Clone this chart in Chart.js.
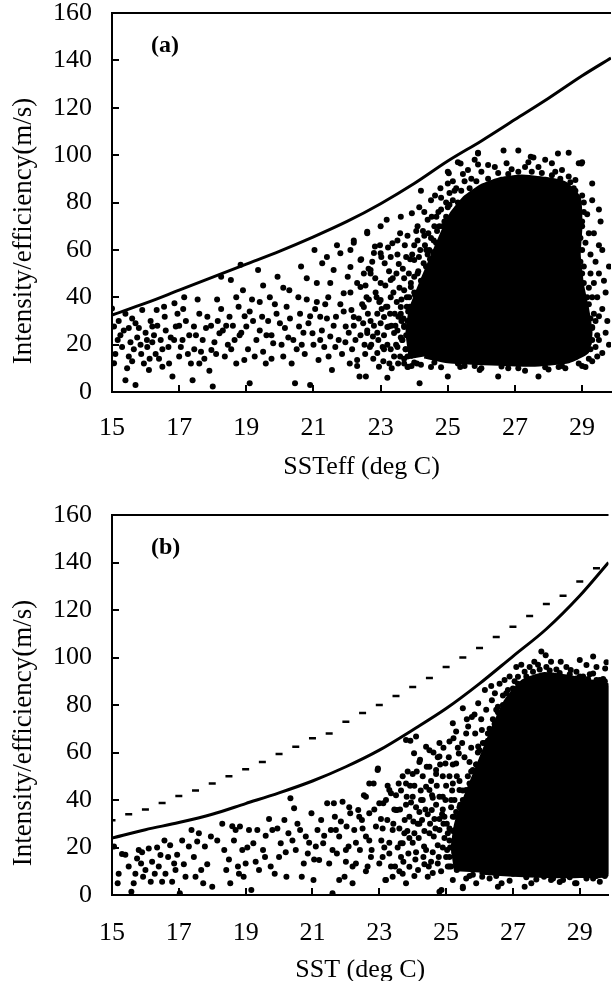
<!DOCTYPE html>
<html>
<head>
<meta charset="utf-8">
<script src="https://cdn.jsdelivr.net/npm/chart.js@4.4.0/dist/chart.umd.min.js"></script>
<style>
  html, body { margin: 0; padding: 0; background: #fff; overflow: hidden; }
  .panel { position: relative; width: 615px; height: 490px; }
  #wrapB { height: 510px; }
</style>
</head>
<body>
<div class="panel" id="wrapA"><canvas id="chartA"></canvas></div>
<div class="panel" id="wrapB"><canvas id="chartB"></canvas></div>
<script>
// axis ticks
const xTicks = [15, 17, 19, 21, 23, 25, 27, 29];
const yTicks = [0, 20, 40, 60, 80, 100, 120, 140, 160];
const xMax = 29.86; // picture is cut off here
const yTitle = "Intensity/efficiency(m/s)";

// (a) limit curve vs SSTeff
const sstA = [15, 16, 17, 18, 19, 20, 21, 22, 23, 24, 25, 26, 27, 28, 29, 29.86];
const limitA = [32.5, 37.5, 43, 48.5, 54, 59.5, 65.5, 72, 79.5, 88, 97.5, 106, 115, 124, 133.5, 141];

// (b) solid curve vs SST
const sstB = [15, 16, 17, 18, 19, 20, 21, 22, 23, 24, 25, 26, 27, 28, 29, 29.86];
const limitB = [24, 27.5, 30.5, 34, 38.5, 43, 48, 54, 61, 69.5, 78.5, 89, 100.5, 112, 126, 140];

// (b) dash markers
const sstDash = [15, 15.5, 16, 16.5, 17, 17.5, 18, 18.5, 19, 19.5, 20, 20.5, 21, 21.5, 22, 22.5,
  23, 23.5, 24, 24.5, 25, 25.5, 26, 26.5, 27, 27.5, 28, 28.5, 29, 29.5];
const limitDash = [31.5, 34, 36, 38.7, 41.7, 44, 47, 50, 53, 56, 59.4, 62.4, 66, 68, 73, 76.6,
  80, 83.8, 87.6, 91.4, 96, 100, 104, 108.6, 113, 117.5, 122.5, 126, 132, 137.6];

// dense cores (solid black outline)
const coreA = [[23.9,14],[23.8,25],[23.9,35],[24.2,46],[24.5,56],[24.8,66],[25.1,75],[25.5,82],[26,87],[26.6,90],[27.2,91],[27.9,90],[28.5,88],[28.9,82],[28.95,70],[28.9,58],[29,45],[29.15,35],[29.25,25],[29.15,17],[28.6,13],[27.5,11.5],[26.3,12],[25,13],[24.3,15]];
const coreB = [[25.3,10],[25.2,20],[25.3,30],[25.6,42],[26,56],[26.4,70],[26.8,82],[27.3,90],[27.9,93],[28.6,92],[29.3,90],[29.86,88],[29.86,9],[29,8],[28,8],[27,8.5],[26,9.5]];

// scattered storms (a)
const scatterA = [
  [15,35.3],[15.06,27.6],[15.06,12.1],[15.17,22],[15.3,19],[15.4,5],[15.5,15],[15.6,31],[15.7,3],[15.75,23],[15.87,16],[15.9,34.6],[16.04,22],[16.1,9.3],[16.2,27.6],[16.3,16],[16.33,34.6],[16.45,22],[16.5,10.7],[16.57,31.8],[16.68,19],[16.8,6.5],[16.86,37.5],[16.9,27.6],[17,15],[17.1,22],[17.15,40],[17.26,16],[17.4,5],[17.44,27.6],[17.55,39],[17.6,12],[17.7,22],[17.84,31.8],[17.96,17.7],[18,2.3],[18.13,39],[18.2,24.8],[18.25,48.7],[18.36,15],[18.5,31.8],[18.54,47.3],[18.65,22],[18.77,36],[18.83,53.7],[18.94,13.5],[19,27.6],[19.1,3.7],[19.17,39],[19.3,22],[19.35,51.5],[19.47,31.8],[19.58,12],[19.7,40],[19.8,20.6],[19.93,48.7],[20,29],[20.1,15],[20.2,36],[20.28,43],[20.4,22],[20.45,3.7],[20.57,27.6],[20.63,53],[20.74,16],[20.8,39],[20.9,3],[20.97,24.8],[21.03,60],[21.1,46],[21.15,13.5],[21.2,31.8],[21.26,54.4],[21.32,19],[21.44,40],[21.5,23.4],[21.55,9.3],[21.6,51.5],[21.67,31.8],[21.8,58.6],[21.85,16],[21.9,41.7],[21.96,27.6],[22.02,48.7],[22.08,12],[22.13,34.6],[22.2,64],[22.25,22],[22.3,46],[22.37,6.5],[22.42,56],[22.48,29],[22.54,16],[22.6,67.7],[22.65,39],[22.7,51.5],[22.77,23.4],[22.83,61.4],[22.9,33],[22.95,10.7],[23,46],[23.06,19],[23.12,54.4],[23.18,72.7],[23.24,27.6],[23.3,40],[23.35,62.8],[23.4,15],[23.47,50],[23.53,31.8],[23.58,67],[23.64,22],[23.7,43],[23.76,57],[23.82,10.7],[23.87,36],[23.93,75.5],[24,48.7],[24.05,24.8],[24.1,64],[24.16,3.7],[24.22,39],[24.28,54.4],[24.34,17.7],[24.4,72.7],[24.45,29],[24.5,44.5],
  [15.2,30],[15.35,26],[15.45,10],[15.55,21],[15.65,18],[15.8,27],[15.95,12],[16.05,19],[16.15,30],[16.25,24],[16.4,14],[16.6,26],[16.75,23],[16.95,33],[17.05,19],[17.2,30],[17.35,12],[17.5,24],[17.65,17],[17.8,27],[17.9,9],[18.05,21],[18.15,30],[18.3,26],[18.45,20],[18.6,28],[18.7,12],[18.85,25],[18.95,32],[19.05,18],[19.2,30],[19.4,26],[19.5,17],[19.65,30],[19.75,24],[19.9,33],[20.05,20],[20.15,27],[20.3,31],[20.5,18],[20.6,33],[20.7,25],[20.85,29],[21,20],[21.05,35],[21.25,26],[21.35,37],[21.45,15],[21.6,28],[21.75,22],[21.9,34],[22.05,25],[22.15,18],[22.35,31],[22.45,37],[22.6,26],[22.72,20],[22.85,42],[23,29],[23.1,24],[23.2,36],[23.3,18],[23.42,33],[23.5,26],[23.62,39],[23.7,14],[23.8,30],[23.9,46],[23.95,20],
  [25,93],[25.3,97],[25.9,101],[25.9,96],[27.1,102],[27.4,97],[27.9,98],[28.6,101],[28.9,96.6],[29,97],[29.3,81],[29.5,77],[29.35,67],[29.6,60],[29.5,50],[29.7,42],[29.8,53],[29.5,32],[29.7,25],[29.6,16.5],[29.4,19],[29.1,10.6],[27.7,6.5],[28.3,10.6],[26.5,6.5],[25.95,9.3],[25.37,10.6],[25,6.5],[24.5,10.6],[22.56,6.5],[23.2,6],
  [24.15,78],[24.5,81],[23.6,74],[23,70],[22.6,67],[22.2,63],[23.5,64],[23,58.6],[22.4,55.7],[24.2,85],[25,88],[24.8,82],[25.6,93.7],[26.2,95.8],[26.75,96.6],[27.55,99],[28.1,96.6],[28.4,93.7],[28.8,89.5],[28.9,77],[29,70],[29.1,63],[29.05,53],[29.2,44],[29.1,36],[29.3,27.4],[29.2,20.7],[28.8,14.8],
  [25.38,96.5],[25.8,98],[25.9,100.7],[25.03,92.3],[25.15,81],[26.66,102],[27.47,99.3],[28.28,100.7],[28.98,96.5],
  [22.1,52.8],[22.4,44.3],[22.7,50],[23,38.8],[23.3,47.3],[23.6,35.9],[23.9,44.3],[22.2,31.7],[22.6,24.9],[22.9,16.5],[23.2,27.4],[23.5,19],[23.8,10.6],[22.3,13.5],[22.5,35.9],[23.1,31.7],[23.4,24.9],[23.7,27.4],[22.8,58.7],[23.3,57],[24,55.7],
  [24.6,70],[24.3,66],[24.7,60],[24.4,58],[24.9,72],[24.2,47],[24.6,50],[24.8,77],[25.2,85],[25.5,89],[24,62],[23.8,66],[24.1,70],
  [29.45,40],[29.6,35],[29.75,30],[29.4,55],[29.65,47],[29.5,62],[29.8,20],[29.45,24],[29.55,72],[29.3,88],[29.35,46],[29.25,58],
  [20.8,48],[21.4,57],[21.7,62],[22.1,60],[19.5,45],[18.9,43],
  [22.55,45],[22.62,33],[22.68,19],[22.75,55],[22.8,28],[22.88,40],[22.93,22],[22.98,62],[23.03,35],[23.08,13],[23.14,45],[23.2,20],[23.25,51],[23.28,33],[23.33,10],[23.38,42],[23.44,28],[23.5,58],[23.52,12],[23.56,44],[23.6,23],[23.66,52],[23.68,31],[23.72,62],[23.74,18],[23.78,40],[23.84,50],[23.86,27],[23.9,16],[23.94,58],[23.98,33],[24.02,41],[24.06,68],[24.08,12],[24.12,51],[24.18,60],[24.24,45],[24.3,76],[24.32,62],[24.38,48],[24.42,67],[24.47,56],[24.52,74],[24.58,64],[24.62,83],[24.68,68],[24.72,76],[24.78,86],[24.85,70],[24.95,80],[25.05,84],[25.15,89],[25.25,86],[25.45,92],[25.7,90],[26,93],[26.4,95],[26.9,94],[27.3,95],[27.7,95],[28.2,93],[28.6,91],[28.75,86],[29.05,80],[29.15,75],[29.2,67],[29.25,50],[29.3,40],[29.35,33],[29.4,30],[29.5,22],[29.45,15],[29.3,13],[29,11],[28.5,10],[28,9.5],[27.3,9],[26.8,10],[26,10],[25.5,11],[24.8,10.5],[24.2,11.5],[23.7,12],
  [15.1,16],[15.25,24],[15.4,33],[15.5,27],[15.6,13],[15.7,29],[15.85,20],[16,25],[16.12,14],[16.2,21],[16.35,28],[16.5,18],[16.55,36],[16.7,12],[16.85,22],[17,28],[17.12,35],[17.3,24],[17.45,18],[17.6,33],[17.75,14],[17.95,28],[18.1,16],[18.25,35],[18.4,28],[18.55,18],[18.7,40],[18.8,24],[19.1,34],[19.25,15],[19.4,38],[19.6,24],[19.75,14],[19.85,37],[20.1,44],[20.25,23],[20.35,12],[20.55,40],[20.65,20],[20.9,32],[21.1,38],[21.2,22],[21.4,31],[21.5,46],[21.65,19],[21.8,37],[21.95,21],[22.1,42],[22.2,28],[22.3,11],[22.4,24],[22.5,50],
  [23.75,18],[23.7,28],[23.78,36],[24,42],[24.1,50],[24.35,53],[24.45,60],[24.65,63],[24.75,70],[24.95,74],[25.05,79],[25.3,80],[25.4,85],[25.65,86],[25.85,89],[26.2,90],[26.5,92.5],[26.8,92],[27.1,93],[27.5,93],[27.8,92.5],[28.1,91.5],[28.35,90],[28.65,88.5],[28.8,85],[29,83],[29.05,76],[29,72],[28.95,65],[29,60],[28.95,55],[29,50],[29.05,46],[29.15,40],[29.2,37],[29.25,31],[29.3,27],[29.3,22],[29.25,18],[29.2,14],[28.9,12],[28.4,11],[27.9,10.5],[27.1,10],[26.6,10.8],[25.8,11],[25.3,12],[24.6,12.5],[24,12.5],[23.8,15],[23.65,22],[23.6,33],[23.85,40],
  [22.52,20],[22.58,40],[22.64,52],[22.7,30],[22.78,14],[22.84,48],[22.9,25],[22.96,38],[23.02,57],[23.1,18],[23.16,36],[23.22,61],[23.26,12],[23.32,28],[23.36,48],[23.46,20],[23.48,38],[23.54,54],[23.58,15],[23.62,30],[23.7,48],[23.76,24],[23.82,34],[23.88,56],[23.92,11],[23.96,26],[24.04,33],[24.1,20],[24.14,57],[24.2,26],[24.26,68],[24.36,60],[24.44,52],[24.5,65],[24.56,59],[24.66,74],[24.7,55],[24.82,63],[24.9,66],[25,78],[25.1,70]
];

// scattered storms (b)
const scatterB = [
  [15.06,20.4],[15.17,4.9],[15.3,17.3],[15.5,12],[15.58,1.4],[15.7,9],[15.75,15.4],[15.8,19],[15.87,13.3],[15.93,7.7],[16,10.5],[16.1,19.6],[16.16,5.6],[16.28,9],[16.4,12],[16.45,16.8],[16.5,5.6],[16.57,23],[16.68,16],[16.74,21],[16.8,5.6],[16.86,13.3],[16.9,10.5],[17.03,0.7],[17.1,23],[17.2,7.7],[17.3,20.4],[17.38,27.4],[17.5,7.7],[17.55,22.5],[17.67,10.5],[17.73,4.9],[17.78,20.4],[17.96,24.6],[18,3.5],[18.3,30],[18.36,19],[18.42,10.5],[18.54,4.9],[18.65,23],[18.7,27.4],[18.77,12],[18.83,28.8],[18.9,19],[18.94,7.7],[19,13.3],[19.1,27.4],[19.17,2.1],[19.23,21.8],[19.35,27.4],[19.4,10.5],[19.52,19],[19.58,16],[19.7,32],[19.8,27.4],[19.87,9],[20,16],[20.05,21.8],[20.16,31.6],[20.22,7.7],[20.28,26],[20.34,40.7],[20.4,23],[20.45,36.5],[20.5,19],[20.63,27.4],[20.68,7.7],[20.74,13.3],[20.8,24.6],[20.86,17.5],[20.97,34.4],[21.03,6.3],[21.1,20.4],[21.15,27.4],[21.2,14.7],[21.26,31.6],[21.32,21.8],[21.44,38.6],[21.5,13.3],[21.55,27.4],[21.6,0.7],[21.67,33],[21.73,17.5],[21.8,24.6],[21.9,39.3],[21.96,7.7],[22.02,28.8],[22.08,20.4],[22.13,34.4],[22.2,12],[22.25,27.4],[22.37,35.8],[22.42,19],[22.48,31.6],[22.54,42],[22.6,24.6],[22.65,12],[22.7,34.4],[22.77,19],[22.83,47],[22.9,28.8],[22.95,52.6],[23,13.3],[23.06,23],[23.12,38.6],[23.18,6.3],[23.24,31.6],[23.3,17.5],[23.35,42.8],[23.4,27.4],[23.47,12],[23.53,35.8],[23.58,47],[23.64,21.8],[23.7,9],[23.76,31.6],[23.82,41.4],[23.87,17.5],[23.93,65],[24,51],[24.05,26],[24.1,37],[24.16,10.5],[24.22,57],[24.28,31.6],[24.34,20.4],[24.4,45.6],[24.45,7.7],[24.5,61],[24.57,35.8],[24.63,24.6],[24.7,51],[24.75,13.3],[24.8,41.4],[24.86,2.1],[24.92,30],[24.98,55.4],[25.03,19],[25.15,37],[25.2,47],[25.27,27.4],[25.32,10.5],[25.38,59.6],[25.44,33],[25.5,3.5],[25.56,21.8],[25.6,44.2],[25.73,14.7],[25.8,52.6],[25.85,30],[25.96,62.5],[26.08,7.7],[26.2,40],[26.3,48.4],[26.43,13.3],[26.66,4.9],[27,9],[27.35,3.5],[27.93,7.7],[28.5,6.3],[28.86,4.9],[29.33,13.3],
  [22.96,53.3],[22.7,47],[23.8,65.3],[24.1,66.7],[24.04,59.7],[24.4,62.4],[24.5,54],[24.8,64],[24.8,58.3],[25.1,64.6],[25.2,72.3],[25.3,68.8],[25.5,78.6],[25.66,71],[25.77,75],[25.96,80.7],[26.07,69.5],[25.87,68],[26.16,86.3],[26.37,82],[26.46,84.9],[26.55,79.3],[26.75,90.5],[26.85,86.3],[27.1,96],[27.15,91.9],[27.35,94],[27.64,98.2],[27.85,102.5],[27.98,101],[28.14,98.2],[28.43,98.2],[28.73,94.7],[29,98.9],[29.2,96.8],[29.4,100.4],[29.6,90.5],[29.76,95.4],[29.4,93.3],[29.6,84.9],[28.9,91.2],
  [21.64,38.6],[22.1,37],[22.4,33],[22.6,41.4],[23,38.6],[23.3,44.2],[23.5,35.8],[23.8,47],[24,41.4],[24.3,50],[24.5,44.2],[24.7,52.6],[24.9,41.4],[25.1,50],[25.3,55.4],[25.4,44.2],[21.7,27.4],[22,19],[22.3,13.3],[22.7,23],[23.1,16],[23.4,7.7],[23.7,21.8],[23.9,11.9],[24.2,30],[24.4,19],[24.6,9.3],[24.8,27.4],[25,16],[25.2,6.3],[25.5,23],[21.8,6.3],[22.2,4.9],[23.2,6.3],[23.8,4.9],[25.5,2.8],[25.9,4.9],[26.55,3.5],[27.55,4.9],[28.14,6.3],[28.9,4.9],[29.6,5.6],[24.8,1.4],
  [23.6,28],[23.9,24],[24.1,18],[24.25,40],[24.35,27],[24.55,14],[24.65,32],[24.75,21],[24.9,36],[25.05,26],[25.1,12],[25.2,33],[25.25,40],[25.35,17],[25.45,28],[25.6,36],[25.7,8],[25.75,40],[25.9,55],[26,46],[26.1,58],[26.25,65],[26.45,72],[26.6,76],[24.6,41],[24.2,35],[23.95,39],[23.65,16],[24.05,8],
  [24.9,20],[24.95,33],[25,46],[25.05,12],[25.1,28],[25.15,40],[25.2,55],[25.25,18],[25.3,35],[25.35,62],[25.4,48],[25.45,26],[25.5,40],[25.55,58],[25.6,68],[25.65,50],[25.7,20],[25.75,62],[25.8,46],[25.85,76],[25.95,60],[26.05,74],[26.1,64],[26.2,78],[26.3,70],[26.35,88],[26.5,78],[26.6,89],[26.7,84],[26.9,92],[27.05,90],[27.25,97],[27.5,96],[27.75,97],[28,96],[28.3,95],[28.6,96],[28.9,94],[29.1,92],[29.3,93],[29.5,96],[29.7,91],[29.8,98],[26.9,6],[27.7,6.5],[28.4,5.5],[29.2,7],[29.5,8],[26.3,7],[25.6,7],
  [23.1,28],[23.2,40],[23.3,22],[23.45,36],[23.55,20],[23.65,44],[23.75,26],[23.85,52],[23.9,33],[24,22],[24.05,46],[24.15,30],[24.2,56],[24.3,40],[24.35,13],[24.45,34],[24.5,26],[24.55,48],[24.6,18],[24.7,38],[24.75,58],[24.8,32],[24.85,10],[24.9,50],[24.95,24],
  [15.2,9],[15.4,17],[15.65,5],[15.9,18],[16.2,14],[16.35,20],[16.6,9],[16.95,17],[17.15,13],[17.45,16],[17.6,26],[17.85,13],[18.15,23],[18.5,15],[18.6,29],[18.8,9],[19.05,20],[19.3,14],[19.6,25],[19.75,12],[19.95,28],[20.2,18],[20.55,30],[20.9,22],[21.05,15],[21.35,25],[21.6,19],[21.85,31],[22,14],[22.3,22],[22.5,28],[22.75,16],[22.85,36],[22.6,10],
  [25.15,12],[25.1,16],[25.1,23],[25.2,27],[25.25,33],[25.4,37],[25.5,44],[25.7,47],[25.75,52],[25.9,55],[26,61],[26.15,64],[26.25,68],[26.4,74],[26.55,77],[26.7,80],[26.8,85],[27,87],[27.15,89],[27.4,92],[27.6,94],[27.8,95],[28.1,94.5],[28.4,93.5],[28.7,93],[29,92],[29.25,91],[29.5,90.5],[29.75,90],[25.8,8.5],[26.5,8],[27.4,7.5],[28.2,7],[28.7,7.5],[29.4,7],[29.75,8],
  [23.05,32],[23.15,20],[23.25,46],[23.35,12],[23.42,30],[23.5,42],[23.6,10],[23.62,36],[23.7,50],[23.72,14],[23.8,38],[23.84,27],[23.92,46],[24.02,31],[24.08,15],[24.12,52],[24.18,24],[24.24,44],[24.32,16],[24.38,36],[24.42,54],[24.48,12],[24.52,30],[24.58,42],[24.62,60],[24.68,28],[24.72,46],[24.78,16],[24.82,55],[24.88,34],[24.92,62],[24.98,40],[25.02,30],[25.08,58],[25.12,20],[25.18,44],[25.22,66],[25.28,24],[25.32,50],[25.38,14],[25.42,38],[25.48,64],[25.55,31],[25.62,74],[25.7,56]
];

const serif = "'Liberation Serif', 'Times New Roman', serif";

function pairs(xs, ys) {
  return xs.map((x, i) => ({ x: x, y: ys[i] }));
}
function pts(list) {
  return list.map(p => ({ x: p[0], y: p[1] }));
}

// top frame line, inward tick marks, panel letter and y title
const frame = {
  id: "frame",
  afterDraw(chart, args, opts) {
    const { ctx, chartArea: ca, scales } = chart;
    ctx.save();
    ctx.strokeStyle = "#000";
    ctx.lineWidth = 2;
    ctx.beginPath();
    ctx.moveTo(ca.left - 1, ca.top);
    ctx.lineTo(ca.right, ca.top);
    xTicks.forEach(v => {
      const px = Math.round(scales.x.getPixelForValue(v));
      ctx.moveTo(px, ca.bottom);
      ctx.lineTo(px, ca.bottom - 7);
    });
    yTicks.forEach(v => {
      const py = Math.round(scales.y.getPixelForValue(v));
      ctx.moveTo(ca.left, py);
      ctx.lineTo(ca.left + 7, py);
    });
    ctx.stroke();
    ctx.fillStyle = "#000";
    ctx.textBaseline = "middle";
    ctx.font = "bold 24px " + serif;
    ctx.fillText(opts.label, ca.left + 39, ca.top + 33);
    ctx.translate(24, ca.top + 218);
    ctx.rotate(-Math.PI / 2);
    ctx.textAlign = "center";
    ctx.font = "27px " + serif;
    ctx.fillText(yTitle, 0, 0);
    ctx.restore();
  },
};

function makePanel(id, o) {
  const datasets = [
    {
      type: "line",
      data: pairs(o.lineX, o.lineY),
      borderColor: "#000",
      borderWidth: 3,
      pointRadius: 0,
      cubicInterpolationMode: "monotone",
      fill: false,
    },
  ];
  if (o.dashX) {
    datasets.push({
      data: pairs(o.dashX, o.dashY),
      showLine: false,
      pointStyle: "line",
      pointRadius: 3.5,
      borderColor: "#000",
      pointBorderWidth: 2.5,
    });
  }
  datasets.push({
    data: pts(o.scatter),
    pointRadius: 3,
    pointBorderWidth: 0,
    backgroundColor: "#000",
  });
  datasets.push({
    type: "line",
    data: pts(o.core),
    borderColor: "#000",
    backgroundColor: "#000",
    borderWidth: 4,
    borderJoinStyle: "round",
    pointRadius: 0,
    tension: 0.15,
    fill: "shape",
  });

  return new Chart(document.getElementById(id), {
    type: "scatter",
    data: { datasets: datasets },
    plugins: [frame],
    options: {
      responsive: true,
      maintainAspectRatio: false,
      animation: false,
      events: [],
      layout: { padding: { top: o.top, left: 0, right: 0, bottom: 0 } },
      plugins: {
        legend: { display: false },
        tooltip: { enabled: false },
        frame: { label: o.label },
      },
      scales: {
        x: {
          type: "linear",
          min: 15,
          max: xMax,
          afterBuildTicks: s => { s.ticks = xTicks.map(v => ({ value: v })); },
          afterFit: s => { s.height = o.xHeight; },
          grid: { display: false, drawTicks: false },
          border: { display: true, color: "#000", width: 2 },
          ticks: {
            color: "#000",
            padding: 0,
            maxRotation: 0,
            autoSkip: false,
            font: { family: serif, size: 26, lineHeight: o.tickLH },
          },
          title: {
            display: true,
            text: o.xTitle,
            color: "#000",
            font: { family: serif, size: 26, lineHeight: 1 },
            padding: { top: 0, bottom: o.titlePad },
          },
        },
        y: {
          min: 0,
          max: 160,
          afterBuildTicks: s => { s.ticks = yTicks.map(v => ({ value: v })); },
          afterFit: s => { s.width = 112; },
          // tick marks hidden with the grid; their length only spaces the labels
          grid: { display: false, drawTicks: true, tickLength: 20 },
          border: { display: true, color: "#000", width: 2 },
          ticks: {
            color: "#000",
            padding: 0,
            font: { family: serif, size: 26, lineHeight: 1 },
          },
        },
      },
    },
  });
}

makePanel("chartA", {
  label: "(a)",
  xTitle: "SSTeff (deg C)",
  lineX: sstA, lineY: limitA,
  scatter: scatterA, core: coreA,
  top: 13, xHeight: 98, tickLH: "72px", titlePad: 10,
});

makePanel("chartB", {
  label: "(b)",
  xTitle: "SST (deg C)",
  lineX: sstB, lineY: limitB,
  dashX: sstDash, dashY: limitDash,
  scatter: scatterB, core: coreB,
  top: 25, xHeight: 105, tickLH: "76px", titlePad: 17,
});
</script>
</body>
</html>
